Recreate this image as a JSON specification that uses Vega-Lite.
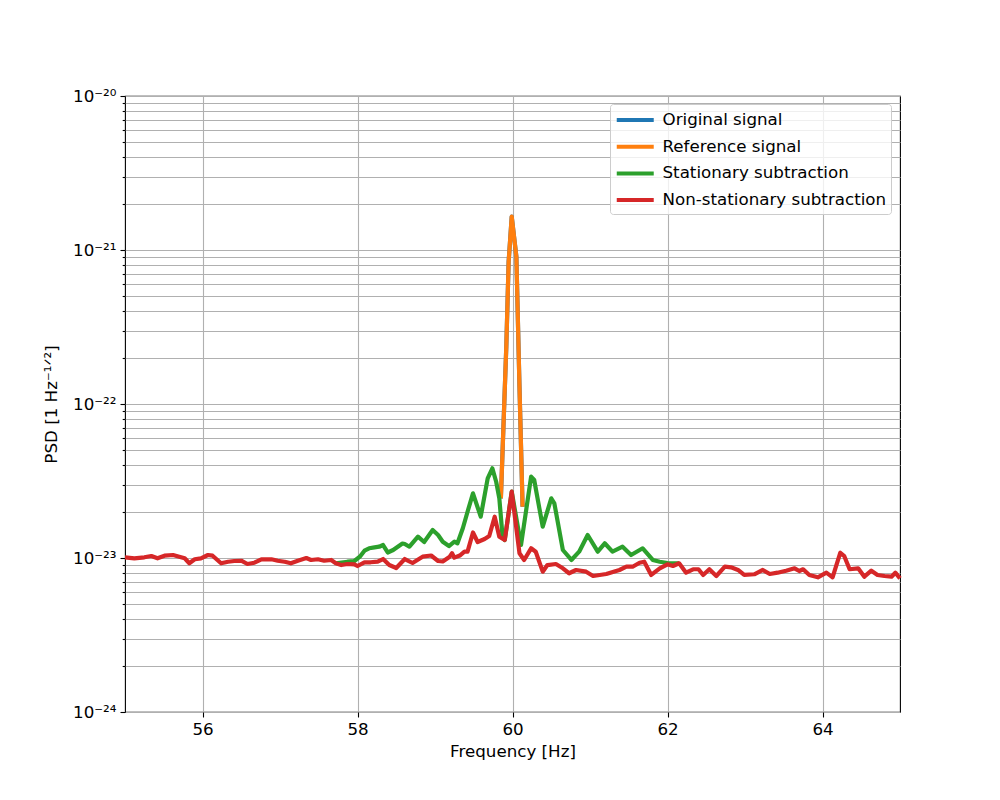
{
  "$schema": "https://vega.github.io/schema/vega-lite/v6.json",
  "width": 775,
  "height": 616,
  "autosize": {"type": "none"},
  "padding": {"left": 125, "top": 96, "right": 100, "bottom": 88},
  "background": "white",
  "config": {
    "font": "DejaVu Sans",
    "view": {"stroke": "black", "strokeWidth": 1.1},
    "axis": {
      "labelFont": "DejaVu Sans",
      "titleFont": "DejaVu Sans",
      "labelFontSize": 16.7,
      "titleFontSize": 16.7,
      "titleFontWeight": "normal",
      "labelColor": "black",
      "titleColor": "black",
      "tickColor": "black",
      "tickWidth": 1.1,
      "gridColor": "#b0b0b0",
      "gridWidth": 1.1,
      "domain": false
    },
    "legend": {"labelFont": "DejaVu Sans", "labelFontSize": 16.7, "labelColor": "black", "labelLimit": 0}
  },
  "datasets": {
    "psd": [
      {"signal": "Original signal", "freq": 59.85, "psd": 2.44e-23},
      {"signal": "Original signal", "freq": 59.92, "psd": 2.36e-22},
      {"signal": "Original signal", "freq": 59.95, "psd": 8.36e-22},
      {"signal": "Original signal", "freq": 59.99, "psd": 1.645e-21},
      {"signal": "Original signal", "freq": 60.05, "psd": 9.05e-22},
      {"signal": "Original signal", "freq": 60.09, "psd": 1.3e-22},
      {"signal": "Original signal", "freq": 60.13, "psd": 2.15e-23},

      {"signal": "Reference signal", "freq": 59.85, "psd": 2.44e-23},
      {"signal": "Reference signal", "freq": 59.92, "psd": 2.36e-22},
      {"signal": "Reference signal", "freq": 59.95, "psd": 8.36e-22},
      {"signal": "Reference signal", "freq": 59.99, "psd": 1.645e-21},
      {"signal": "Reference signal", "freq": 60.05, "psd": 9.05e-22},
      {"signal": "Reference signal", "freq": 60.09, "psd": 1.3e-22},
      {"signal": "Reference signal", "freq": 60.13, "psd": 2.15e-23},

      {"signal": "Stationary subtraction", "freq": 57.72, "psd": 9.24e-24},
      {"signal": "Stationary subtraction", "freq": 57.87, "psd": 9.46e-24},
      {"signal": "Stationary subtraction", "freq": 57.96, "psd": 9.56e-24},
      {"signal": "Stationary subtraction", "freq": 58.03, "psd": 1.02e-23},
      {"signal": "Stationary subtraction", "freq": 58.09, "psd": 1.116e-23},
      {"signal": "Stationary subtraction", "freq": 58.15, "psd": 1.156e-23},
      {"signal": "Stationary subtraction", "freq": 58.22, "psd": 1.173e-23},
      {"signal": "Stationary subtraction", "freq": 58.28, "psd": 1.184e-23},
      {"signal": "Stationary subtraction", "freq": 58.33, "psd": 1.214e-23},
      {"signal": "Stationary subtraction", "freq": 58.39, "psd": 1.086e-23},
      {"signal": "Stationary subtraction", "freq": 58.46, "psd": 1.127e-23},
      {"signal": "Stationary subtraction", "freq": 58.52, "psd": 1.184e-23},
      {"signal": "Stationary subtraction", "freq": 58.58, "psd": 1.242e-23},
      {"signal": "Stationary subtraction", "freq": 58.61, "psd": 1.233e-23},
      {"signal": "Stationary subtraction", "freq": 58.67, "psd": 1.184e-23},
      {"signal": "Stationary subtraction", "freq": 58.78, "psd": 1.375e-23},
      {"signal": "Stationary subtraction", "freq": 58.86, "psd": 1.27e-23},
      {"signal": "Stationary subtraction", "freq": 58.97, "psd": 1.52e-23},
      {"signal": "Stationary subtraction", "freq": 59.04, "psd": 1.41e-23},
      {"signal": "Stationary subtraction", "freq": 59.1, "psd": 1.276e-23},
      {"signal": "Stationary subtraction", "freq": 59.18, "psd": 1.196e-23},
      {"signal": "Stationary subtraction", "freq": 59.25, "psd": 1.276e-23},
      {"signal": "Stationary subtraction", "freq": 59.29, "psd": 1.246e-23},
      {"signal": "Stationary subtraction", "freq": 59.36, "psd": 1.566e-23},
      {"signal": "Stationary subtraction", "freq": 59.42, "psd": 1.998e-23},
      {"signal": "Stationary subtraction", "freq": 59.49, "psd": 2.631e-23},
      {"signal": "Stationary subtraction", "freq": 59.59, "psd": 1.854e-23},
      {"signal": "Stationary subtraction", "freq": 59.68, "psd": 3.293e-23},
      {"signal": "Stationary subtraction", "freq": 59.74, "psd": 3.824e-23},
      {"signal": "Stationary subtraction", "freq": 59.79, "psd": 3.116e-23},
      {"signal": "Stationary subtraction", "freq": 59.83, "psd": 2.441e-23},
      {"signal": "Stationary subtraction", "freq": 59.87, "psd": 1.41e-23},
      {"signal": "Stationary subtraction", "freq": 59.9, "psd": 1.309e-23},
      {"signal": "Stationary subtraction", "freq": 59.99, "psd": 2.695e-23},
      {"signal": "Stationary subtraction", "freq": 60.11, "psd": 1.214e-23},
      {"signal": "Stationary subtraction", "freq": 60.24, "psd": 3.373e-23},
      {"signal": "Stationary subtraction", "freq": 60.28, "psd": 3.21e-23},
      {"signal": "Stationary subtraction", "freq": 60.39, "psd": 1.597e-23},
      {"signal": "Stationary subtraction", "freq": 60.5, "psd": 2.441e-23},
      {"signal": "Stationary subtraction", "freq": 60.54, "psd": 2.266e-23},
      {"signal": "Stationary subtraction", "freq": 60.65, "psd": 1.127e-23},
      {"signal": "Stationary subtraction", "freq": 60.76, "psd": 9.71e-24},
      {"signal": "Stationary subtraction", "freq": 60.86, "psd": 1.099e-23},
      {"signal": "Stationary subtraction", "freq": 60.97, "psd": 1.41e-23},
      {"signal": "Stationary subtraction", "freq": 61.1, "psd": 1.099e-23},
      {"signal": "Stationary subtraction", "freq": 61.19, "psd": 1.246e-23},
      {"signal": "Stationary subtraction", "freq": 61.29, "psd": 1.099e-23},
      {"signal": "Stationary subtraction", "freq": 61.42, "psd": 1.184e-23},
      {"signal": "Stationary subtraction", "freq": 61.53, "psd": 1.046e-23},
      {"signal": "Stationary subtraction", "freq": 61.68, "psd": 1.156e-23},
      {"signal": "Stationary subtraction", "freq": 61.81, "psd": 9.71e-24},
      {"signal": "Stationary subtraction", "freq": 61.9, "psd": 9.46e-24},
      {"signal": "Stationary subtraction", "freq": 62.0, "psd": 9.28e-24},
      {"signal": "Stationary subtraction", "freq": 62.15, "psd": 9.24e-24},

      {"signal": "Non-stationary subtraction", "freq": 55.0, "psd": 1.0105e-23},
      {"signal": "Non-stationary subtraction", "freq": 55.12, "psd": 9.955e-24},
      {"signal": "Non-stationary subtraction", "freq": 55.25, "psd": 1.0105e-23},
      {"signal": "Non-stationary subtraction", "freq": 55.34, "psd": 1.03e-23},
      {"signal": "Non-stationary subtraction", "freq": 55.42, "psd": 9.955e-24},
      {"signal": "Non-stationary subtraction", "freq": 55.51, "psd": 1.035e-23},
      {"signal": "Non-stationary subtraction", "freq": 55.62, "psd": 1.046e-23},
      {"signal": "Non-stationary subtraction", "freq": 55.7, "psd": 1.02e-23},
      {"signal": "Non-stationary subtraction", "freq": 55.77, "psd": 9.955e-24},
      {"signal": "Non-stationary subtraction", "freq": 55.83, "psd": 9.24e-24},
      {"signal": "Non-stationary subtraction", "freq": 55.9, "psd": 9.81e-24},
      {"signal": "Non-stationary subtraction", "freq": 55.98, "psd": 9.955e-24},
      {"signal": "Non-stationary subtraction", "freq": 56.07, "psd": 1.046e-23},
      {"signal": "Non-stationary subtraction", "freq": 56.13, "psd": 1.035e-23},
      {"signal": "Non-stationary subtraction", "freq": 56.24, "psd": 9.24e-24},
      {"signal": "Non-stationary subtraction", "freq": 56.33, "psd": 9.46e-24},
      {"signal": "Non-stationary subtraction", "freq": 56.41, "psd": 9.56e-24},
      {"signal": "Non-stationary subtraction", "freq": 56.5, "psd": 9.6e-24},
      {"signal": "Non-stationary subtraction", "freq": 56.58, "psd": 9.14e-24},
      {"signal": "Non-stationary subtraction", "freq": 56.67, "psd": 9.32e-24},
      {"signal": "Non-stationary subtraction", "freq": 56.76, "psd": 9.81e-24},
      {"signal": "Non-stationary subtraction", "freq": 56.89, "psd": 9.81e-24},
      {"signal": "Non-stationary subtraction", "freq": 56.97, "psd": 9.6e-24},
      {"signal": "Non-stationary subtraction", "freq": 57.06, "psd": 9.46e-24},
      {"signal": "Non-stationary subtraction", "freq": 57.14, "psd": 9.24e-24},
      {"signal": "Non-stationary subtraction", "freq": 57.23, "psd": 9.6e-24},
      {"signal": "Non-stationary subtraction", "freq": 57.29, "psd": 9.81e-24},
      {"signal": "Non-stationary subtraction", "freq": 57.34, "psd": 1.0e-23},
      {"signal": "Non-stationary subtraction", "freq": 57.4, "psd": 9.71e-24},
      {"signal": "Non-stationary subtraction", "freq": 57.49, "psd": 9.81e-24},
      {"signal": "Non-stationary subtraction", "freq": 57.57, "psd": 9.6e-24},
      {"signal": "Non-stationary subtraction", "freq": 57.66, "psd": 9.71e-24},
      {"signal": "Non-stationary subtraction", "freq": 57.72, "psd": 9.24e-24},
      {"signal": "Non-stationary subtraction", "freq": 57.79, "psd": 9.0e-24},
      {"signal": "Non-stationary subtraction", "freq": 57.87, "psd": 9.14e-24},
      {"signal": "Non-stationary subtraction", "freq": 57.96, "psd": 9.1e-24},
      {"signal": "Non-stationary subtraction", "freq": 58.0, "psd": 8.87e-24},
      {"signal": "Non-stationary subtraction", "freq": 58.09, "psd": 9.38e-24},
      {"signal": "Non-stationary subtraction", "freq": 58.17, "psd": 9.38e-24},
      {"signal": "Non-stationary subtraction", "freq": 58.26, "psd": 9.46e-24},
      {"signal": "Non-stationary subtraction", "freq": 58.33, "psd": 9.85e-24},
      {"signal": "Non-stationary subtraction", "freq": 58.41, "psd": 9.0e-24},
      {"signal": "Non-stationary subtraction", "freq": 58.5, "psd": 8.61e-24},
      {"signal": "Non-stationary subtraction", "freq": 58.61, "psd": 9.85e-24},
      {"signal": "Non-stationary subtraction", "freq": 58.71, "psd": 9.28e-24},
      {"signal": "Non-stationary subtraction", "freq": 58.84, "psd": 1.02e-23},
      {"signal": "Non-stationary subtraction", "freq": 58.95, "psd": 1.038e-23},
      {"signal": "Non-stationary subtraction", "freq": 59.04, "psd": 9.56e-24},
      {"signal": "Non-stationary subtraction", "freq": 59.1, "psd": 9.49e-24},
      {"signal": "Non-stationary subtraction", "freq": 59.19, "psd": 1.02e-23},
      {"signal": "Non-stationary subtraction", "freq": 59.22, "psd": 1.073e-23},
      {"signal": "Non-stationary subtraction", "freq": 59.25, "psd": 1.005e-23},
      {"signal": "Non-stationary subtraction", "freq": 59.32, "psd": 1.038e-23},
      {"signal": "Non-stationary subtraction", "freq": 59.38, "psd": 1.099e-23},
      {"signal": "Non-stationary subtraction", "freq": 59.42, "psd": 1.099e-23},
      {"signal": "Non-stationary subtraction", "freq": 59.49, "psd": 1.464e-23},
      {"signal": "Non-stationary subtraction", "freq": 59.55, "psd": 1.27e-23},
      {"signal": "Non-stationary subtraction", "freq": 59.64, "psd": 1.328e-23},
      {"signal": "Non-stationary subtraction", "freq": 59.7, "psd": 1.389e-23},
      {"signal": "Non-stationary subtraction", "freq": 59.77, "psd": 1.854e-23},
      {"signal": "Non-stationary subtraction", "freq": 59.83, "psd": 1.375e-23},
      {"signal": "Non-stationary subtraction", "freq": 59.9, "psd": 1.309e-23},
      {"signal": "Non-stationary subtraction", "freq": 59.99, "psd": 2.695e-23},
      {"signal": "Non-stationary subtraction", "freq": 60.09, "psd": 1.073e-23},
      {"signal": "Non-stationary subtraction", "freq": 60.15, "psd": 9.71e-24},
      {"signal": "Non-stationary subtraction", "freq": 60.24, "psd": 1.156e-23},
      {"signal": "Non-stationary subtraction", "freq": 60.3, "psd": 1.099e-23},
      {"signal": "Non-stationary subtraction", "freq": 60.39, "psd": 8.15e-24},
      {"signal": "Non-stationary subtraction", "freq": 60.45, "psd": 9.0e-24},
      {"signal": "Non-stationary subtraction", "freq": 60.56, "psd": 9.14e-24},
      {"signal": "Non-stationary subtraction", "freq": 60.65, "psd": 8.57e-24},
      {"signal": "Non-stationary subtraction", "freq": 60.73, "psd": 7.96e-24},
      {"signal": "Non-stationary subtraction", "freq": 60.82, "psd": 8.36e-24},
      {"signal": "Non-stationary subtraction", "freq": 60.95, "psd": 8.15e-24},
      {"signal": "Non-stationary subtraction", "freq": 61.04, "psd": 7.64e-24},
      {"signal": "Non-stationary subtraction", "freq": 61.21, "psd": 7.87e-24},
      {"signal": "Non-stationary subtraction", "freq": 61.38, "psd": 8.36e-24},
      {"signal": "Non-stationary subtraction", "freq": 61.47, "psd": 8.78e-24},
      {"signal": "Non-stationary subtraction", "freq": 61.55, "psd": 8.78e-24},
      {"signal": "Non-stationary subtraction", "freq": 61.64, "psd": 9.32e-24},
      {"signal": "Non-stationary subtraction", "freq": 61.7, "psd": 9.46e-24},
      {"signal": "Non-stationary subtraction", "freq": 61.79, "psd": 7.76e-24},
      {"signal": "Non-stationary subtraction", "freq": 61.9, "psd": 8.57e-24},
      {"signal": "Non-stationary subtraction", "freq": 62.0, "psd": 9.1e-24},
      {"signal": "Non-stationary subtraction", "freq": 62.07, "psd": 8.87e-24},
      {"signal": "Non-stationary subtraction", "freq": 62.15, "psd": 9.24e-24},
      {"signal": "Non-stationary subtraction", "freq": 62.24, "psd": 8.03e-24},
      {"signal": "Non-stationary subtraction", "freq": 62.33, "psd": 8.45e-24},
      {"signal": "Non-stationary subtraction", "freq": 62.4, "psd": 8.45e-24},
      {"signal": "Non-stationary subtraction", "freq": 62.46, "psd": 7.76e-24},
      {"signal": "Non-stationary subtraction", "freq": 62.54, "psd": 8.45e-24},
      {"signal": "Non-stationary subtraction", "freq": 62.63, "psd": 7.64e-24},
      {"signal": "Non-stationary subtraction", "freq": 62.74, "psd": 8.78e-24},
      {"signal": "Non-stationary subtraction", "freq": 62.82, "psd": 8.7e-24},
      {"signal": "Non-stationary subtraction", "freq": 62.91, "psd": 8.36e-24},
      {"signal": "Non-stationary subtraction", "freq": 62.99, "psd": 7.76e-24},
      {"signal": "Non-stationary subtraction", "freq": 63.12, "psd": 7.84e-24},
      {"signal": "Non-stationary subtraction", "freq": 63.23, "psd": 8.36e-24},
      {"signal": "Non-stationary subtraction", "freq": 63.32, "psd": 7.87e-24},
      {"signal": "Non-stationary subtraction", "freq": 63.42, "psd": 8.03e-24},
      {"signal": "Non-stationary subtraction", "freq": 63.53, "psd": 8.27e-24},
      {"signal": "Non-stationary subtraction", "freq": 63.64, "psd": 8.57e-24},
      {"signal": "Non-stationary subtraction", "freq": 63.7, "psd": 8.23e-24},
      {"signal": "Non-stationary subtraction", "freq": 63.75, "psd": 8.45e-24},
      {"signal": "Non-stationary subtraction", "freq": 63.83, "psd": 7.76e-24},
      {"signal": "Non-stationary subtraction", "freq": 63.94, "psd": 7.49e-24},
      {"signal": "Non-stationary subtraction", "freq": 64.05, "psd": 8.03e-24},
      {"signal": "Non-stationary subtraction", "freq": 64.13, "psd": 7.49e-24},
      {"signal": "Non-stationary subtraction", "freq": 64.23, "psd": 1.082e-23},
      {"signal": "Non-stationary subtraction", "freq": 64.28, "psd": 1.03e-23},
      {"signal": "Non-stationary subtraction", "freq": 64.35, "psd": 8.45e-24},
      {"signal": "Non-stationary subtraction", "freq": 64.46, "psd": 8.57e-24},
      {"signal": "Non-stationary subtraction", "freq": 64.54, "psd": 7.56e-24},
      {"signal": "Non-stationary subtraction", "freq": 64.63, "psd": 8.27e-24},
      {"signal": "Non-stationary subtraction", "freq": 64.71, "psd": 7.76e-24},
      {"signal": "Non-stationary subtraction", "freq": 64.8, "psd": 7.64e-24},
      {"signal": "Non-stationary subtraction", "freq": 64.89, "psd": 7.56e-24},
      {"signal": "Non-stationary subtraction", "freq": 64.94, "psd": 8.03e-24},
      {"signal": "Non-stationary subtraction", "freq": 65.0, "psd": 7.38e-24}
    ]
  },
  "data": {"name": "psd"},
  "encoding": {
    "x": {
      "field": "freq",
      "type": "quantitative",
      "title": "Frequency [Hz]",
      "scale": {"domain": [55, 65], "nice": false, "zero": false},
      "axis": {"values": [56, 58, 60, 62, 64], "tickSize": 5, "labelPadding": 4, "titlePadding": 6}
    },
    "y": {
      "field": "psd",
      "type": "quantitative",
      "title": "PSD [1 Hz⁻¹ᐟ²]",
      "scale": {"type": "log", "domain": [1e-24, 1e-20], "nice": false},
      "axis": {
        "values": [1e-24, 2e-24, 3e-24, 4e-24, 5e-24, 6e-24, 7e-24, 8e-24, 9e-24,
                   1e-23, 2e-23, 3e-23, 4e-23, 5e-23, 6e-23, 7e-23, 8e-23, 9e-23,
                   1e-22, 2e-22, 3e-22, 4e-22, 5e-22, 6e-22, 7e-22, 8e-22, 9e-22,
                   1e-21, 2e-21, 3e-21, 4e-21, 5e-21, 6e-21, 7e-21, 8e-21, 9e-21, 1e-20],
        "labelExpr": "abs(log(datum.value)/LN10 - round(log(datum.value)/LN10)) > 0.001 ? '' : '10⁻' + ['²⁰','²¹','²²','²³','²⁴'][-round(log(datum.value)/LN10) - 20]",
        "tickSize": {"condition": {"test": "abs(log(datum.value)/LN10 - round(log(datum.value)/LN10)) < 0.001", "value": 5}, "value": 2.8},
        "labelPadding": 4,
        "labelBound": false,
        "labelOverlap": false,
        "titlePadding": 12
      }
    },
    "color": {
      "field": "signal",
      "type": "nominal",
      "scale": {
        "domain": ["Original signal", "Reference signal", "Stationary subtraction", "Non-stationary subtraction"],
        "range": ["#1f77b4", "#ff7f0e", "#2ca02c", "#d62728"]
      },
      "legend": {
        "title": null,
        "orient": "none",
        "legendX": 485,
        "legendY": 8,
        "fillColor": "rgba(255,255,255,0.8)",
        "strokeColor": "#cccccc",
        "cornerRadius": 3,
        "padding": 4.5,
        "symbolType": "M-1,0H3",
        "symbolSize": 342,
        "symbolStrokeWidth": 4,
        "labelOffset": 25,
        "rowPadding": 5.7
      }
    }
  },
  "layer": [
    {"transform": [{"filter": "datum.signal == 'Original signal'"}], "mark": {"type": "line", "strokeWidth": 4.2, "strokeJoin": "round"}},
    {"transform": [{"filter": "datum.signal == 'Reference signal'"}], "mark": {"type": "line", "strokeWidth": 4.2, "strokeJoin": "round"}},
    {"transform": [{"filter": "datum.signal == 'Stationary subtraction'"}], "mark": {"type": "line", "strokeWidth": 4.2, "strokeJoin": "round"}},
    {"transform": [{"filter": "datum.signal == 'Non-stationary subtraction'"}], "mark": {"type": "line", "strokeWidth": 4.2, "strokeJoin": "round"}}
  ]
}
